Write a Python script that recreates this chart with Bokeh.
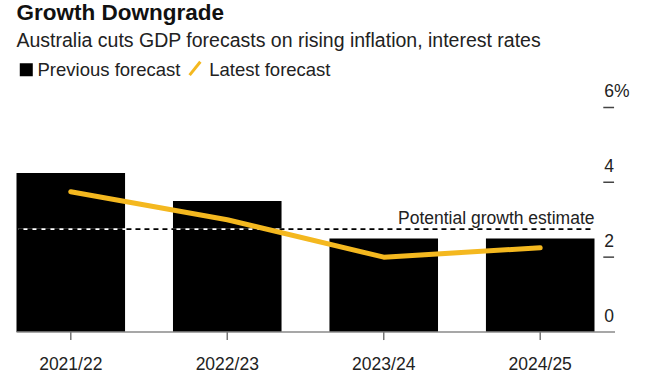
from bokeh.plotting import figure
from bokeh.models import Range1d, ColumnDataSource
from bokeh.core.properties import value
from bokeh.embed import file_html
from bokeh.resources import INLINE

# ---- data ----
categories = ["2021/22", "2022/23", "2023/24", "2024/25"]
previous_forecast = [4.25, 3.5, 2.5, 2.5]
latest_forecast = [3.75, 3.0, 2.0, 2.25]
potential_growth = 2.75
y_ticks = [0, 2, 4, 6]
y_tick_labels = ["0", "2", "4", "6%"]

title = "Growth Downgrade"
subtitle = "Australia cuts GDP forecasts on rising inflation, interest rates"
legend_labels = ["Previous forecast", "Latest forecast"]
annotation = "Potential growth estimate"

# ---- layout ----
W, H = 634, 374
SX, SY = 0.978, 0.953           # slight squeeze so the chart fits the window

def fx(rx):                     # design px -> figure px
    return 16 + (rx - 16) * SX

def fy(ry):
    return 6 + (ry - 7) * SY

CAT0 = fx(71.5)                 # px of first category centre
CATW = 160 * SX                 # px per category
BASE = fy(348.5)                # px of y = 0
UNIT = 39.25 * SY               # px per percentage point

def X(rx):
    return (fx(rx) - CAT0) / CATW

def Y(ry):
    return (BASE - fy(ry)) / UNIT

FONT = value("Liberation Sans")
YELLOW = "#F4B81F"
TXT = "#222222"
idx = list(range(len(categories)))

p = figure(width=W, height=H, output_backend="svg", toolbar_location=None,
           x_range=Range1d(-CAT0 / CATW, (W - CAT0) / CATW),
           y_range=Range1d((BASE - H) / UNIT, BASE / UNIT),
           x_axis_location=None, y_axis_location=None, min_border=0,
           outline_line_color=None, background_fill_color="white")
p.title.visible = False
p.xgrid.visible = False
p.ygrid.visible = False

# bars
src = ColumnDataSource(dict(x=idx, prev=previous_forecast, late=latest_forecast))
p.vbar(x="x", top="prev", bottom=0, width=111 / 160, source=src,
       fill_color="black", line_color=None)

# potential growth reference line (white under black dashes)
p.segment(x0=[X(18)], y0=[potential_growth], x1=[X(604)], y1=[potential_growth],
          line_color="white", line_width=1.6)
p.segment(x0=[X(18)], y0=[potential_growth], x1=[X(604)], y1=[potential_growth],
          line_color="black", line_width=1.6, line_dash="5 4")
p.text(x=[X(607)], y=[potential_growth], text=[annotation], text_align="right",
       text_baseline="alphabetic", y_offset=-(5 * SY + 6), text_font=FONT,
       text_font_size="17.5px", text_color=TXT)

# latest forecast line
p.line(x="x", y="late", source=src, line_color=YELLOW, line_width=5,
       line_cap="round", line_join="round")

# baseline and x ticks
p.segment(x0=[X(16)], y0=[0], x1=[X(628)], y1=[0], line_color="#8a8a8a", line_width=1.5)
p.segment(x0=idx, y0=[0] * len(idx), x1=idx, y1=[Y(357)] * len(idx),
          line_color="#777777", line_width=1.5)
p.text(x=idx, y=[Y(388)] * len(idx), text=categories, text_align="center",
       text_baseline="alphabetic", y_offset=-6, text_font=FONT,
       text_font_size="17.5px", text_color=TXT)

# y ticks and labels (right side)
tick_marks = [t for t in y_ticks if t > 0]
p.segment(x0=[X(616)] * len(tick_marks), y0=tick_marks,
          x1=[X(627)] * len(tick_marks), y1=tick_marks,
          line_color="#444444", line_width=1.5)
p.text(x=[X(617)] * len(y_ticks), y=y_ticks, text=y_tick_labels,
       text_align="left", text_baseline="alphabetic", y_offset=-(11 * SY + 6),
       text_font=FONT, text_font_size="17.5px", text_color=TXT)

# title, subtitle
p.text(x=[X(16)], y=[Y(22)], text=[title], text_align="left",
       text_baseline="alphabetic", y_offset=-8, text_font=FONT,
       text_font_size="22.5px", text_font_style="bold", text_color="#111111")
p.text(x=[X(16)], y=[Y(50)], text=[subtitle], text_align="left",
       text_baseline="alphabetic", y_offset=-7, text_font=FONT,
       text_font_size="19.5px", text_color=TXT)

# legend
p.scatter(x=[X(26)], y=[Y(73.5)], marker="square", size=13,
          fill_color="black", line_color=None)
p.text(x=[X(37.5)], y=[Y(80)], text=[legend_labels[0]], text_align="left",
       text_baseline="alphabetic", y_offset=-6.5, text_font=FONT,
       text_font_size="18.5px", text_color=TXT)
p.segment(x0=[X(193)], y0=[Y(79)], x1=[X(204)], y1=[Y(65)],
          line_color=YELLOW, line_width=3)
p.text(x=[X(213)], y=[Y(80)], text=[legend_labels[1]], text_align="left",
       text_baseline="alphabetic", y_offset=-6.5, text_font=FONT,
       text_font_size="18.5px", text_color=TXT)

open("out.html", "w").write(file_html(p, INLINE))
